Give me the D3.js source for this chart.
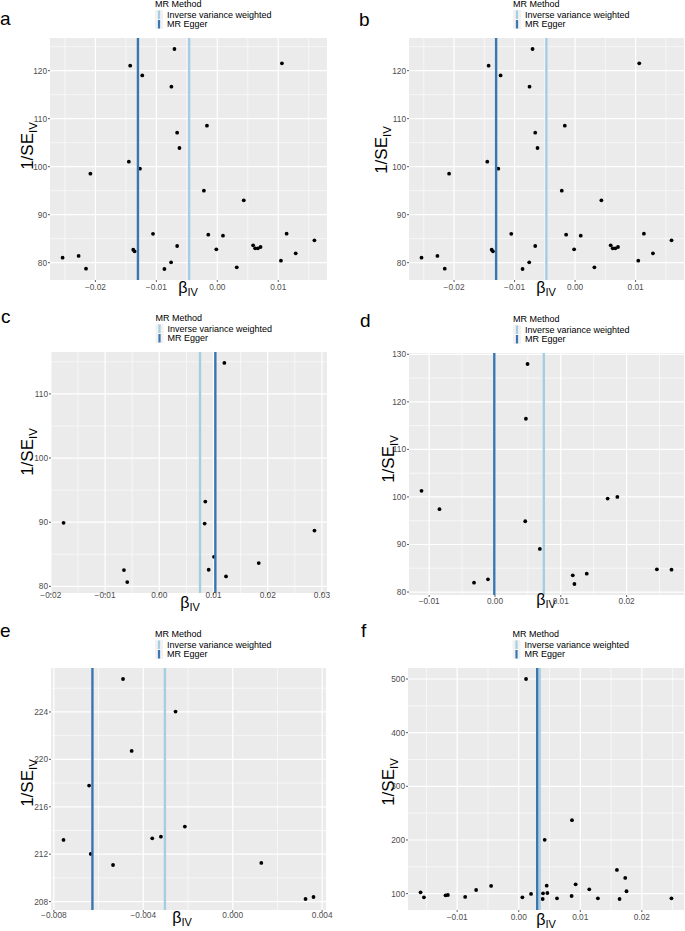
<!DOCTYPE html>
<html><head><meta charset="utf-8">
<script src="https://cdn.jsdelivr.net/npm/d3@7"></script>
<style>body{margin:0;background:#fff}</style>
</head><body>
<svg id="chart" width="685" height="931"></svg>
<script>
// ---------- data ----------
const methods = ["Inverse variance weighted", "MR Egger"];
const methodColors = ["#a6cee3", "#3a76b0"];

const aBeta  = [-0.02538,-0.02275,-0.02154,-0.02082,-0.01429,-0.01451,-0.01379,-0.01357,-0.01269,-0.01231,-0.01055,-0.00868,-0.00758,-0.00753,-0.00703,-0.00659,-0.00659,-0.00621,-0.0022,-0.0017,-0.00148,-0.00016,0.00093,0.00319,0.00434,0.00588,0.00621,0.00665,0.00709,0.01044,0.0106,0.01137,0.01286,0.01593];
const aInvSE = [81.04,81.4,78.75,98.54,121.04,101.04,82.7,82.36,99.58,119.0,86.0,78.68,80.07,116.67,124.51,107.08,83.47,103.89,95.0,108.54,85.83,82.78,85.63,79.03,92.99,83.61,82.99,82.99,83.26,80.42,121.53,86.04,81.94,84.65];
const aLines = [-0.00462, -0.01302];

const bBeta  = aBeta.slice();
const bInvSE = aInvSE.slice();
const bLines = [-0.00475, -0.01305];

const cBeta  = [-0.01766,-0.00652,-0.00591,0.00849,0.00837,0.01009,0.00911,0.0120,0.01231,0.01834,0.02862];
const cInvSE = [89.9,82.54,80.67,93.21,89.79,84.6,82.59,114.82,81.55,83.63,88.7];
const cLines = [0.00751, 0.01034];

const dBeta  = [-0.01116,-0.00843,-0.00318,-0.00106,0.00495,0.0047,0.0046,0.00682,0.01182,0.01207,0.01394,0.01712,0.01859,0.0246,0.02682];
const dInvSE = [101.28,97.42,81.97,82.67,127.96,116.45,94.89,89.06,83.51,81.69,83.86,99.66,100.01,84.78,84.7];
const dLines = [0.00742, -0.0001];

const eBeta  = [-0.007569,-0.006424,-0.00635,-0.005353,-0.004907,-0.00452,-0.003599,-0.003212,-0.002558,-0.002141,0.001279,0.003257,0.003613];
const eInvSE = [213.2,217.79,212.02,211.09,226.78,220.71,213.34,213.48,224.03,214.33,211.26,208.22,208.39];
const eLines = [-0.003033, -0.006275];

const fBeta  = [-0.01595,-0.0154,-0.01189,-0.01151,-0.0087,-0.00692,-0.00449,0.00119,0.00059,0.0020,0.00395,0.00422,0.00389,0.00454,0.00465,0.00622,0.00865,0.00859,0.00924,0.01146,0.01286,0.01595,0.0173,0.01638,0.01751,0.02481];
const fInvSE = [102.5,93.2,96.9,97.5,93.8,106.8,114.3,500,93.2,99.4,100.6,200.2,90.0,114.9,101.2,91.3,236.9,95.6,117.4,108.1,91.3,144.2,129.2,90.0,104.4,91.3];
const fLines = [0.0034, 0.0030];

// tick values and labels
const abXTicks = [-0.02,-0.01,0,0.01], abXLabels = ["\u22120.02","\u22120.01","0.00","0.01"];
const abYTicks = [80,90,100,110,120], abYLabels = ["80","90","100","110","120"];
const cXTicks = [-0.02,-0.01,0,0.01,0.02,0.03], cXLabels = ["\u22120.02","\u22120.01","0.00","0.01","0.02","0.03"];
const cYTicks = [80,90,100,110], cYLabels = ["80","90","100","110"];
const dXTicks = [-0.01,0,0.01,0.02], dXLabels = ["\u22120.01","0.00","0.01","0.02"];
const dYTicks = [80,90,100,110,120,130], dYLabels = ["80","90","100","110","120","130"];
const eXTicks = [-0.008,-0.004,0,0.004], eXLabels = ["\u22120.008","\u22120.004","0.000","0.004"];
const eYTicks = [208,212,216,220,224], eYLabels = ["208","212","216","220","224"];
const fXTicks = [-0.01,0,0.01,0.02], fXLabels = ["\u22120.01","0.00","0.01","0.02"];
const fYTicks = [100,200,300,400,500], fYLabels = ["100","200","300","400","500"];

// ---------- layout ----------
const panels = [
  {tag:"a", beta:aBeta, y:aInvSE, lines:aLines, xt:abXTicks, xl:abXLabels, yt:abYTicks, yl:abYLabels,
   box:[50,38,327,280], tagPos:[0,25], xLabBase:290, xTitle:[188,293], yTitle:[33,146]},
  {tag:"b", beta:bBeta, y:bInvSE, lines:bLines, xt:abXTicks, xl:abXLabels, yt:abYTicks, yl:abYLabels,
   box:[409,38,684,280], tagPos:[359,26], xLabBase:290, xTitle:[546,293], yTitle:[387,150]},
  {tag:"c", beta:cBeta, y:cInvSE, lines:cLines, xt:cXTicks, xl:cXLabels, yt:cYTicks, yl:cYLabels,
   box:[51,352,327,593], tagPos:[1,323], xLabBase:598, xTitle:[190,608], yTitle:[33,452]},
  {tag:"d", beta:dBeta, y:dInvSE, lines:dLines, xt:dXTicks, xl:dXLabels, yt:dYTicks, yl:dYLabels,
   box:[409,353,684,595], tagPos:[360,327], xLabBase:604, xTitle:[546,605], yTitle:[394,459]},
  {tag:"e", beta:eBeta, y:eInvSE, lines:eLines, xt:eXTicks, xl:eXLabels, yt:eYTicks, yl:eYLabels,
   box:[51,668,326,910], tagPos:[0,637], xLabBase:918, xTitle:[182,923], yTitle:[33,783]},
  {tag:"f", beta:fBeta, y:fInvSE, lines:fLines, xt:fXTicks, xl:fXLabels, yt:fYTicks, yl:fYLabels,
   box:[408,668,684,910], tagPos:[361,637], xLabBase:920, xTitle:[546,925], yTitle:[394,782]}
];

const svg = d3.select("#chart");
const FONT = "'Liberation Sans', Arial, Helvetica, sans-serif";

function expand(ext){ const r = ext[1]-ext[0]; return [ext[0]-0.05*r, ext[1]+0.05*r]; }
function minors(ticks, dom){
  const step = ticks[1]-ticks[0]; const out=[];
  for (let i=-1;i<ticks.length;i++){ const v = ticks[0]+step*(i+0.5); if (v>dom[0] && v<dom[1]) out.push(v); }
  return out;
}

panels.forEach(p => {
  const [l,t,r,b] = p.box;
  const xDom = expand(d3.extent(p.beta.concat(p.lines)));
  const yDom = expand(d3.extent(p.y));
  const x = d3.scaleLinear().domain(xDom).range([l,r]);
  const y = d3.scaleLinear().domain(yDom).range([b,t]);
  const g = svg.append("g");

  g.append("rect").attr("x",l).attr("y",t).attr("width",r-l).attr("height",b-t).attr("fill","#ebebeb");
  // minor grid
  minors(p.xt, xDom).forEach(v => g.append("line").attr("x1",x(v)).attr("x2",x(v)).attr("y1",t).attr("y2",b).attr("stroke","#fff").attr("stroke-width",0.6));
  minors(p.yt, yDom).forEach(v => g.append("line").attr("y1",y(v)).attr("y2",y(v)).attr("x1",l).attr("x2",r).attr("stroke","#fff").attr("stroke-width",0.6));
  // major grid
  p.xt.forEach(v => g.append("line").attr("x1",x(v)).attr("x2",x(v)).attr("y1",t).attr("y2",b).attr("stroke","#fff").attr("stroke-width",1.2));
  p.yt.forEach(v => g.append("line").attr("y1",y(v)).attr("y2",y(v)).attr("x1",l).attr("x2",r).attr("stroke","#fff").attr("stroke-width",1.2));

  // points
  g.selectAll("circle.pt").data(p.beta.map((d,i)=>[d,p.y[i]])).enter().append("circle")
    .attr("cx",d=>x(d[0])).attr("cy",d=>y(d[1])).attr("r",1.9).attr("fill","#000");
  // method lines (IVW then Egger)
  p.lines.forEach((v,i) => g.append("line").attr("x1",x(v)).attr("x2",x(v)).attr("y1",t).attr("y2",b)
    .attr("stroke",methodColors[i]).attr("stroke-width",2.4));

  // axes ticks
  p.xt.forEach((v,i) => {
    g.append("line").attr("x1",x(v)).attr("x2",x(v)).attr("y1",b).attr("y2",b+2).attr("stroke","#333").attr("stroke-width",0.8);
    g.append("text").attr("x",x(v)).attr("y",p.xLabBase).attr("text-anchor","middle")
      .attr("font-family",FONT).attr("font-size",8.3).attr("fill","#4d4d4d").text(p.xl[i]);
  });
  p.yt.forEach((v,i) => {
    g.append("line").attr("x1",l-2).attr("x2",l).attr("y1",y(v)).attr("y2",y(v)).attr("stroke","#333").attr("stroke-width",0.8);
    g.append("text").attr("x",l-3).attr("y",y(v)).attr("dy","0.35em").attr("text-anchor","end")
      .attr("font-family",FONT).attr("font-size",8.3).attr("fill","#4d4d4d").text(p.yl[i]);
  });

  // axis titles
  const xt = g.append("text").attr("x",p.xTitle[0]).attr("y",p.xTitle[1]).attr("text-anchor","middle")
    .attr("font-family",FONT).attr("font-size",16).attr("fill","#000");
  xt.append("tspan").text("\u03b2");
  xt.append("tspan").attr("font-size",11).attr("dy",3).text("IV");

  const yt = g.append("text").attr("transform",`translate(${p.yTitle[0]},${p.yTitle[1]}) rotate(-90)`)
    .attr("text-anchor","middle").attr("font-family",FONT).attr("font-size",17).attr("fill","#000");
  yt.append("tspan").text("1/SE");
  yt.append("tspan").attr("font-size",11.5).attr("dy",4).text("IV");

  // panel tag
  g.append("text").attr("x",p.tagPos[0]).attr("y",p.tagPos[1]).attr("font-family",FONT)
    .attr("font-size",19).attr("fill","#000").text(p.tag);

  // legend
  const cx = (l+r)/2, lx = cx - 33.5, ly = t - 31;
  g.append("text").attr("x",lx).attr("y",ly).attr("font-family",FONT).attr("font-size",9).attr("fill","#000").text("MR Method");
  methods.forEach((m,i) => {
    const ky = ly + 3 + i*9.5;
    g.append("rect").attr("x",lx).attr("y",ky).attr("width",8).attr("height",9.5).attr("fill","#f2f2f2");
    g.append("line").attr("x1",lx+4).attr("x2",lx+4).attr("y1",ky+0.5).attr("y2",ky+9).attr("stroke",methodColors[i]).attr("stroke-width",2.2);
    g.append("text").attr("x",lx+12).attr("y",ky+7.8).attr("font-family",FONT).attr("font-size",9).attr("fill","#000").text(m);
  });
});
</script>
</body></html>
